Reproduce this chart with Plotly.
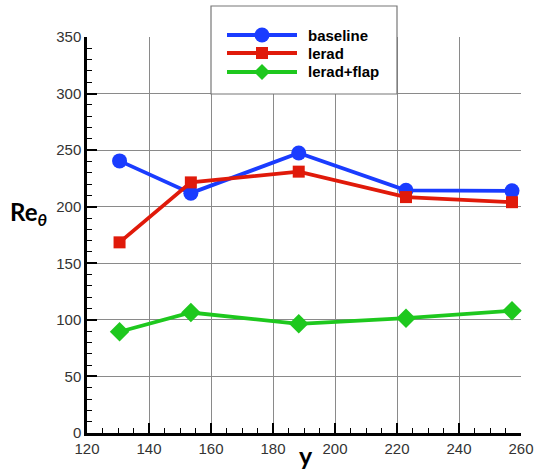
import plotly.graph_objects as go

# Spanwise stations and momentum-thickness Reynolds number per configuration
y_pos = [130.5, 153.5, 188.3, 222.9, 257.1]
baseline = [240.5, 212.0, 247.5, 214.5, 214.0]
lerad = [168.5, 221.5, 231.0, 208.5, 204.0]
lerad_flap = [89.5, 106.5, 96.5, 101.5, 108.0]

series_names = ["baseline", "lerad", "lerad+flap"]
series_values = [baseline, lerad, lerad_flap]
colors = ["#1a3cff", "#e01a0a", "#1ec81e"]
symbols = ["circle", "square", "diamond"]
msizes = [15, 12, 15]

W, H = 534, 473
L, R, T, B = 87, 13, 37, 40
PW, PH = W - L - R, H - T - B


def px_x(p):
    return (p - L) / PW


def px_y(p):
    return (H - B - p) / PH


fig = go.Figure()
for name, vals, c, s, ms in zip(series_names, series_values, colors, symbols, msizes):
    fig.add_trace(go.Scatter(
        x=y_pos, y=vals, name=name, mode="lines+markers",
        line=dict(color=c, width=3.8),
        marker=dict(symbol=s, size=ms, color=c),
        cliponaxis=False, showlegend=False,
    ))

axis_common = dict(
    showline=True, linecolor="black", linewidth=2.5,
    ticks="inside", ticklen=10, tickwidth=2, tickcolor="black",
    showgrid=True, gridcolor="#8a8a8a", gridwidth=1,
    zeroline=False, mirror=False, automargin=False,
    tickfont=dict(family="Liberation Sans, Arial", size=15, color="#333333"),
)

fig.update_xaxes(
    range=[120, 260], dtick=20, tick0=120,
    minor=dict(dtick=5, ticks="inside", ticklen=5, tickwidth=1, tickcolor="black", showgrid=False),
    **axis_common,
)
fig.update_yaxes(
    range=[0, 350], dtick=50, tick0=0,
    minor=dict(dtick=10, ticks="inside", ticklen=5, tickwidth=1, tickcolor="black", showgrid=False),
    **axis_common,
)

shapes = []
annotations = []

# Legend frame
shapes.append(dict(
    type="rect", xref="paper", yref="paper",
    x0=px_x(211), x1=px_x(397), y0=px_y(94), y1=px_y(6),
    line=dict(color="#777777", width=1.2), fillcolor="white", layer="above",
))

row_y = [35, 53, 72]
mk_paths = {
    "circle": None,
    "square": "M-6,-6 L6,-6 L6,6 L-6,6 Z",
    "diamond": "M0,-8 L8,0 L0,8 L-8,0 Z",
}
for name, c, s, ry in zip(series_names, colors, symbols, row_y):
    yy = px_y(ry)
    shapes.append(dict(
        type="line", xref="paper", yref="paper",
        x0=px_x(227), x1=px_x(297), y0=yy, y1=yy,
        line=dict(color=c, width=3.8), layer="above",
    ))
    cx = px_x(262)
    if s == "circle":
        shapes.append(dict(
            type="circle", xref="paper", yref="paper",
            xsizemode="pixel", ysizemode="pixel", xanchor=cx, yanchor=yy,
            x0=-7.5, x1=7.5, y0=-7.5, y1=7.5,
            fillcolor=c, line=dict(color=c, width=0), layer="above",
        ))
    else:
        shapes.append(dict(
            type="path", xref="paper", yref="paper",
            xsizemode="pixel", ysizemode="pixel", xanchor=cx, yanchor=yy,
            path=mk_paths[s],
            fillcolor=c, line=dict(color=c, width=0), layer="above",
        ))
    annotations.append(dict(
        xref="paper", yref="paper", x=px_x(306), y=yy,
        text="<b>%s</b>" % name, showarrow=False,
        xanchor="left", yanchor="middle",
        font=dict(family="Liberation Sans, Arial", size=15, color="black"),
    ))

# Axis titles
annotations.append(dict(
    xref="paper", yref="paper", x=px_x(8), y=px_y(213),
    text="<b>Re<sub><i>θ</i></sub></b>", showarrow=False,
    xanchor="left", yanchor="middle",
    font=dict(family="Lato, Open Sans", size=24, color="black"),
))
annotations.append(dict(
    xref="paper", yref="paper", x=px_x(306), y=px_y(472),
    text="<b>y</b>", showarrow=False,
    xanchor="center", yanchor="bottom",
    font=dict(family="Lato, Open Sans", size=25, color="black"),
))

fig.update_layout(
    width=W, height=H,
    margin=dict(l=L, r=R, t=T, b=B),
    paper_bgcolor="white", plot_bgcolor="white",
    shapes=shapes, annotations=annotations,
    showlegend=False,
)

fig.write_html("out.html")
